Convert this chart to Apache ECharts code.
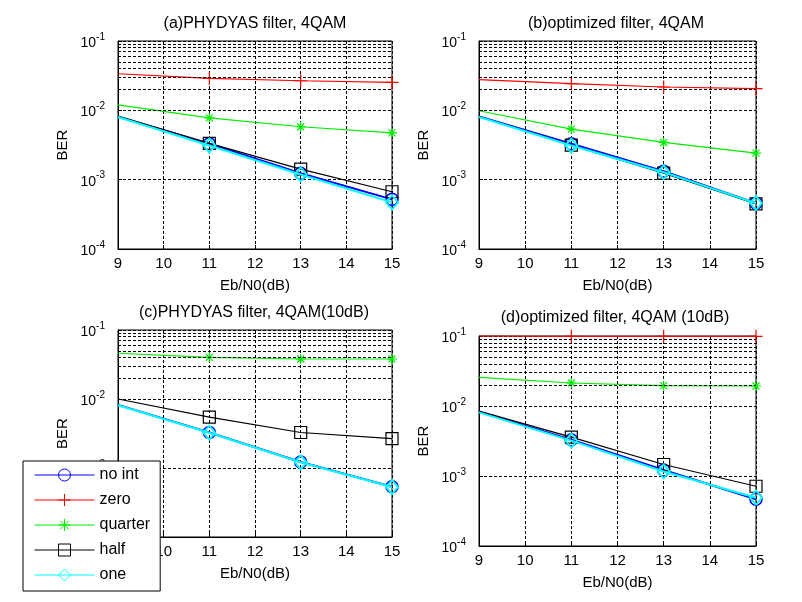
<!DOCTYPE html>
<html>
<head>
<meta charset="utf-8">
<script src="https://cdn.jsdelivr.net/npm/echarts@6/dist/echarts.min.js"></script>
<style>
html,body{margin:0;padding:0;background:#fff;}
#chart{width:802px;height:602px;}
</style>
</head>
<body>
<div id="chart"></div>
<script>
// ---------- data ----------
const xValues = [9, 11, 13, 15];
const seriesNames = ['no int', 'zero', 'quarter', 'half', 'one'];
const panelTitles = [
  '(a)PHYDYAS filter, 4QAM',
  '(b)optimized filter, 4QAM',
  '(c)PHYDYAS filter, 4QAM(10dB)',
  '(d)optimized filter, 4QAM (10dB)'
];
const xTicks = [9, 10, 11, 12, 13, 14, 15];
const yMajorTicks = [1e-4, 1e-3, 1e-2, 1e-1];
const minorMultipliers = [2, 3, 4, 5, 6, 7, 8, 9];
const xName = 'Eb/N0(dB)';
const yName = 'BER';

// panel (a)
const aNoInt   = [0.0081, 0.00329, 0.00124, 0.00052];
const aZero    = [0.0337, 0.0289, 0.0267, 0.0253];
const aQuarter = [0.0120, 0.0078, 0.0058, 0.00474];
const aHalf    = [0.00826, 0.00333, 0.00142, 0.00067];
const aOne     = [0.0080, 0.00311, 0.00119, 0.00047];
// panel (b)
const bNoInt   = [0.00816, 0.00329, 0.00132, 0.000457];
const bZero    = [0.0277, 0.0242, 0.0217, 0.0205];
const bQuarter = [0.00987, 0.00536, 0.00344, 0.00241];
const bHalf    = [0.00816, 0.00315, 0.00124, 0.000447];
const bOne     = [0.0080, 0.00311, 0.00128, 0.000457];
// panel (c)  ("zero" lies above the plotted range)
const cNoInt   = [0.00822, 0.00327, 0.00122, 0.000535];
const cZero    = [];
const cQuarter = [0.0460, 0.0402, 0.0380, 0.0380];
const cHalf    = [0.0100, 0.00545, 0.00327, 0.00267];
const cOne     = [0.0081, 0.00325, 0.00121, 0.00053];
// panel (d)
const dNoInt   = [0.00828, 0.00329, 0.00122, 0.000466];
const dZero    = [0.1005, 0.0990, 0.0990, 0.0990];
const dQuarter = [0.0256, 0.0213, 0.0195, 0.0193];
const dHalf    = [0.00846, 0.00359, 0.00146, 0.000714];
const dOne     = [0.0081, 0.00320, 0.00116, 0.00049];

const panelData = [
  [aNoInt, aZero, aQuarter, aHalf, aOne],
  [bNoInt, bZero, bQuarter, bHalf, bOne],
  [cNoInt, cZero, cQuarter, cHalf, cOne],
  [dNoInt, dZero, dQuarter, dHalf, dOne]
];

// ---------- layout / style ----------
const FONT = '"Liberation Sans", Arial, Helvetica, sans-serif';
const grids = [
  {left: 118, top: 41,  width: 274, height: 208},
  {left: 479, top: 41,  width: 277, height: 208},
  {left: 118, top: 330, width: 274, height: 207},
  {left: 479, top: 336, width: 277, height: 210}
];
const titlePos = [
  {x: 255, top: 15},
  {x: 616, top: 15},
  {x: 254, top: 304},
  {x: 615, top: 309}
];
const PLUS = 'path://M5,0L5,10M0,5L10,5';
const STAR = 'path://M5,0L5,10M0,5L10,5M1.5,1.5L8.5,8.5M1.5,8.5L8.5,1.5';
const styles = [
  {color: '#0000ff', symbol: 'circle',  size: 12,      lw: 2,   bw: 1.5},
  {color: '#ff0000', symbol: PLUS,      size: 13,      lw: 1.2, bw: 1.2},
  {color: '#00ee00', symbol: STAR,      size: 10,      lw: 1.2, bw: 1.2},
  {color: '#000000', symbol: 'rect',    size: 12,      lw: 1.2, bw: 1.2},
  {color: '#00ffff', symbol: 'diamond', size: [12,14], lw: 2,   bw: 1.8}
];

const minorValues = [];
yMajorTicks.slice(0, 3).forEach(d => minorMultipliers.forEach(m => minorValues.push(m * d)));

const dash = [3, 2];
const option = {
  animation: false,
  backgroundColor: '#fff',
  title: panelTitles.map((t, i) => ({
    text: t, left: titlePos[i].x, top: titlePos[i].top, textAlign: 'center', padding: 0,
    textStyle: {fontFamily: FONT, fontSize: 16, fontWeight: 'normal', color: '#000', lineHeight: 18}
  })),
  grid: grids.map(g => Object.assign({show: true, borderColor: '#000', borderWidth: 1, backgroundColor: '#fff', containLabel: false}, g)),
  xAxis: grids.map((g, i) => ({
    type: 'value', gridIndex: i, min: xTicks[0], max: xTicks[xTicks.length - 1], interval: 1,
    name: xName, nameLocation: 'middle', nameGap: 29,
    nameTextStyle: {fontFamily: FONT, fontSize: 15, color: '#000'},
    axisLine: {show: true, lineStyle: {color: '#000', width: 1}},
    axisTick: {show: true, inside: true, length: 4, lineStyle: {color: '#000'}},
    axisLabel: {margin: 7, fontFamily: FONT, fontSize: 15, color: '#000'},
    splitLine: {show: true, lineStyle: {color: '#000', type: dash, width: 1}}
  })),
  yAxis: grids.map((g, i) => ({
    type: 'log', logBase: 10, gridIndex: i, min: yMajorTicks[0], max: yMajorTicks[yMajorTicks.length - 1],
    name: yName, nameLocation: 'middle', nameGap: 48,
    nameTextStyle: {fontFamily: FONT, fontSize: 15, color: '#000'},
    axisLine: {show: true, lineStyle: {color: '#000', width: 1}},
    axisTick: {show: true, inside: true, length: 4, lineStyle: {color: '#000'}},
    axisLabel: {
      margin: 13, padding: [0, 0, 4, 0],
      formatter: v => '{b|10}{s|' + Math.round(Math.log10(v)) + '}',
      rich: {
        b: {fontFamily: FONT, fontSize: 14, color: '#000', lineHeight: 14, padding: [8, 0, 0, 0]},
        s: {fontFamily: FONT, fontSize: 10, color: '#000', lineHeight: 10, verticalAlign: 'top'}
      }
    },
    splitLine: {show: true, lineStyle: {color: '#000', type: dash, width: 1}}
  })),
  legend: {
    orient: 'vertical', left: 23, top: 461,
    padding: [6, 10, 8, 11],
    itemWidth: 60, itemHeight: 15, itemGap: 9,
    backgroundColor: '#fff', borderColor: '#000', borderWidth: 1, borderRadius: 0,
    textStyle: {fontFamily: FONT, fontSize: 16, color: '#000', lineHeight: 16},
    data: seriesNames.map((n, k) => ({
      name: n,
      itemStyle: {color: 'transparent', borderColor: styles[k].color, borderWidth: 1},
      lineStyle: {color: styles[k].color, width: 1}
    }))
  },
  series: []
};

grids.forEach((g, i) => {
  option.series.push({
    type: 'line', xAxisIndex: i, yAxisIndex: i, data: [], silent: true, z: 1,
    markLine: {
      silent: true, symbol: ['none', 'none'], animation: false,
      label: {show: false},
      lineStyle: {color: '#000', type: dash, width: 1},
      emphasis: {disabled: true},
      data: minorValues.map(v => ({yAxis: v}))
    }
  });
  panelData[i].forEach((ys, k) => {
    const s = styles[k];
    option.series.push({
      type: 'line', name: seriesNames[k], xAxisIndex: i, yAxisIndex: i, z: 2 + k,
      symbol: s.symbol, symbolSize: s.size, showSymbol: true,
      lineStyle: {color: s.color, width: s.lw},
      itemStyle: {color: 'transparent', borderColor: s.color, borderWidth: s.bw},
      emphasis: {disabled: true},
      data: ys.map((y, j) => j === 0 ? {value: [xValues[j], y], symbol: 'none'} : {value: [xValues[j], y]})
    });
  });
});

const chart = echarts.init(document.getElementById('chart'), null, {renderer: 'canvas'});
chart.setOption(option);
</script>
</body>
</html>
